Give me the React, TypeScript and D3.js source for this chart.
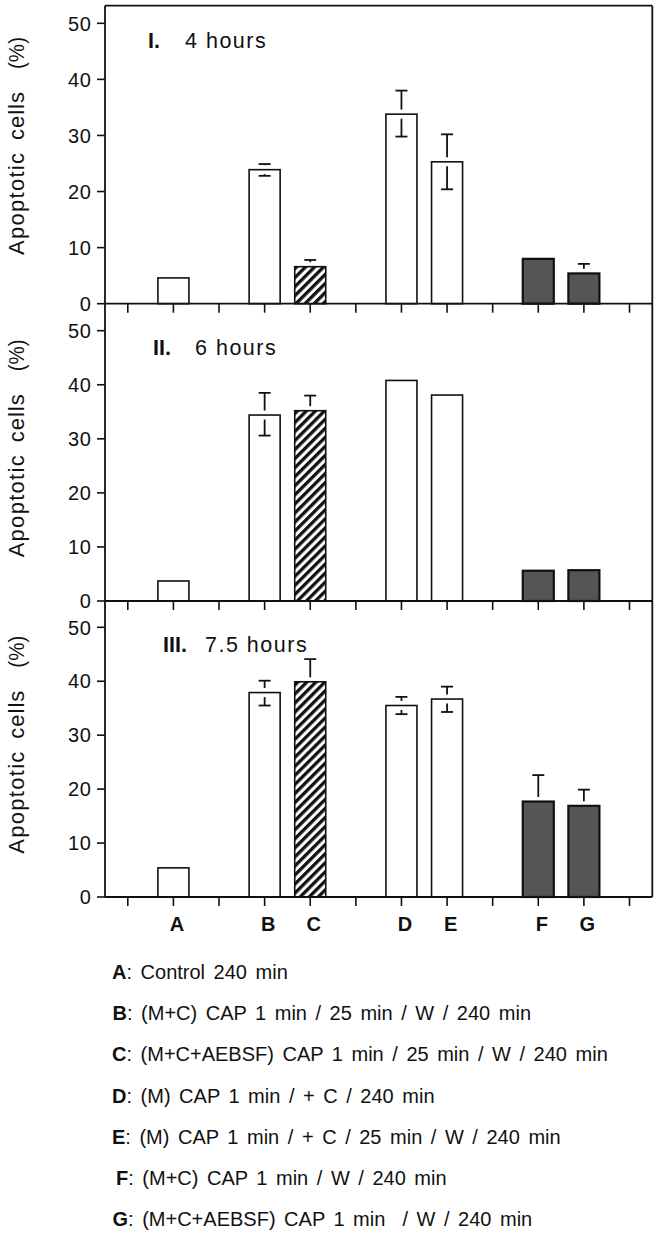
import React from "react";
import * as d3 from "d3";

// ---------- data ----------
const slots = ["s0", "A", "s1", "B", "C", "s2", "D", "E", "s3", "F", "G", "s4"];
const categories = ["A", "B", "C", "D", "E", "F", "G"];
const barKind = ["open", "open", "hatch", "open", "open", "solid", "solid"];
const yTicks = [0, 10, 20, 30, 40, 50];

const panelRoman = ["I.", "II.", "III."];
const panelTime = ["4 hours", "6 hours", "7.5 hours"];

const values4h = [4.6, 23.9, 6.6, 33.8, 25.3, 8.0, 5.4];
const errUp4h = [null, 1.0, 1.2, 4.2, 4.9, null, 1.7];
const errDown4h = [null, 1.1, null, 4.0, 4.9, null, null];

const values6h = [3.7, 34.4, 35.2, 40.8, 38.1, 5.6, 5.7];
const errUp6h = [null, 4.1, 2.8, null, null, null, null];
const errDown6h = [null, 3.8, null, null, null, null, null];

const values75h = [5.4, 37.9, 39.9, 35.5, 36.7, 17.7, 16.9];
const errUp75h = [null, 2.2, 4.2, 1.6, 2.3, 4.9, 3.0];
const errDown75h = [null, 2.4, null, 1.6, 2.4, null, null];

const legendLetters = ["A", "B", "C", "D", "E", "F", "G"];
const legendTexts = [
  "Control 240 min",
  "(M+C) CAP 1 min / 25 min / W / 240 min",
  "(M+C+AEBSF) CAP 1 min / 25 min / W / 240 min",
  "(M) CAP 1 min / + C / 240 min",
  "(M) CAP 1 min / + C / 25 min / W / 240 min",
  "(M+C) CAP 1 min / W / 240 min",
  "(M+C+AEBSF) CAP 1 min  / W / 240 min",
];

const seriesValues = [values4h, values6h, values75h];
const seriesErrUp = [errUp4h, errUp6h, errUp75h];
const seriesErrDown = [errDown4h, errDown6h, errDown75h];

// ---------- layout ----------
const W = 663;
const H = 1237;
const LEFT = 105;
const RIGHT = 652.3;
const TOP = 5.7;
const panelLayout = [
  { y50: 23.3, y0: 303.7, romanX: 148, timeX: 185 },
  { y50: 330.7, y0: 601, romanX: 153, timeX: 195 },
  { y50: 627.3, y0: 897, romanX: 163, timeX: 205 },
];
const legendIndent = [112, 112.5, 112, 112, 112, 116, 112.5];
const FONT = "'Liberation Sans', Arial, Helvetica, sans-serif";

const x = d3.scaleBand<string>().domain(slots).range([LEFT, RIGHT]).padding(0);
const bw = x.bandwidth();
const barW = bw * 0.68;
const cx = (k: string) => (x(k) as number) + bw / 2;

const legendY = d3.scaleLinear().domain([0, 6]).range([979, 1226]);

function Panel({ idx }: { idx: number }) {
  const L = panelLayout[idx];
  const y = d3.scaleLinear().domain([0, 50]).range([L.y0, L.y50]);
  const vals = seriesValues[idx];
  const eu = seriesErrUp[idx];
  const ed = seriesErrDown[idx];
  const labelCenter = (L.y0 + L.y50) / 2 - 17.5;
  const labelStart = labelCenter + 109;
  const gap = 4.5;
  return (
    <g>
      {categories.map((c, i) => {
        const kind = barKind[i];
        const top = y(vals[i]);
        const fill = kind === "open" ? "#fff" : kind === "hatch" ? "url(#hatch)" : "#555";
        const sw = kind === "solid" ? 2.2 : 1.6;
        return (
          <rect
            key={c}
            x={cx(c) - barW / 2}
            y={top}
            width={barW}
            height={L.y0 - top}
            fill={fill}
            stroke="#111"
            strokeWidth={sw}
          />
        );
      })}
      {categories.map((c, i) => {
        const top = y(vals[i]);
        const parts: any[] = [];
        if (eu[i] != null) {
          const yu = y(vals[i] + (eu[i] as number));
          parts.push(<line key="uc" x1={cx(c) - 6} x2={cx(c) + 6} y1={yu} y2={yu} />);
          parts.push(<line key="uv" x1={cx(c)} x2={cx(c)} y1={yu} y2={Math.max(yu, top - gap)} />);
        }
        if (ed[i] != null) {
          const yd = y(vals[i] - (ed[i] as number));
          parts.push(<line key="dc" x1={cx(c) - 6} x2={cx(c) + 6} y1={yd} y2={yd} />);
          parts.push(<line key="dv" x1={cx(c)} x2={cx(c)} y1={Math.min(yd, top + gap)} y2={yd} />);
        }
        return (
          <g key={"e" + c} stroke="#111" strokeWidth={1.8}>
            {parts}
          </g>
        );
      })}
      <line x1={LEFT} x2={RIGHT} y1={L.y0} y2={L.y0} stroke="#111" strokeWidth={1.8} />
      {slots.map((s) => (
        <line key={"xt" + s} x1={cx(s)} x2={cx(s)} y1={L.y0} y2={L.y0 + 9} stroke="#111" strokeWidth={1.6} />
      ))}
      {yTicks.map((t) => (
        <g key={"yt" + t}>
          <line x1={LEFT - 8} x2={LEFT} y1={y(t)} y2={y(t)} stroke="#111" strokeWidth={1.6} />
          <text
            x={91.5}
            y={y(t)}
            dy="0.36em"
            textAnchor="end"
            fontSize={20}
            letterSpacing={0.6}
            fontFamily={FONT}
            fill="#111"
          >
            {t}
          </text>
        </g>
      ))}
      <g transform={`translate(24,${labelStart}) rotate(-90)`} fontFamily={FONT} fontSize={22} fill="#111">
        <text x={0} y={0} textLength={102} lengthAdjust="spacing">Apoptotic</text>
        <text x={115} y={0} textLength={48} lengthAdjust="spacing">cells</text>
        <text x={186} y={0} textLength={32} lengthAdjust="spacingAndGlyphs">(%)</text>
      </g>
      <text x={L.romanX} y={L.y50 + 24.5} fontFamily={FONT} fontSize={21.5} fontWeight="bold" fill="#111">
        {panelRoman[idx]}
      </text>
      <text x={L.timeX} y={L.y50 + 24.5} fontFamily={FONT} fontSize={21.5} letterSpacing={1.5} fill="#111">
        {panelTime[idx]}
      </text>
    </g>
  );
}

export default function App() {
  return (
    <svg
      width={W}
      height={H}
      viewBox={`0 0 ${W} ${H}`}
      style={{ position: "absolute", left: 0, top: 0, background: "#fff" }}
    >
      <defs>
        <pattern id="hatch" patternUnits="userSpaceOnUse" width={6.4} height={6.4} patternTransform="rotate(45)">
          <rect x={0} y={0} width={6.4} height={6.4} fill="#fff" />
          <rect x={0} y={0} width={3.3} height={6.4} fill="#111" />
        </pattern>
      </defs>
      <rect x={0} y={0} width={W} height={H} fill="#fff" />
      {[0, 1, 2].map((i) => (
        <Panel key={i} idx={i} />
      ))}
      <line x1={LEFT} x2={LEFT} y1={TOP} y2={panelLayout[2].y0} stroke="#111" strokeWidth={1.8} />
      <line x1={RIGHT} x2={RIGHT} y1={TOP} y2={panelLayout[2].y0} stroke="#111" strokeWidth={1.8} />
      <line x1={LEFT} x2={RIGHT} y1={TOP} y2={TOP} stroke="#111" strokeWidth={1.8} />
      {categories.map((c) => (
        <text
          key={"xl" + c}
          x={cx(c) + 3.5}
          y={931}
          textAnchor="middle"
          fontFamily={FONT}
          fontSize={20}
          fontWeight="bold"
          fill="#111"
        >
          {c}
        </text>
      ))}
      {legendLetters.map((l, i) => (
        <text
          key={"lg" + l}
          x={legendIndent[i]}
          y={legendY(i)}
          fontFamily={FONT}
          fontSize={20}
          wordSpacing={3}
          fill="#111"
          style={{ whiteSpace: "pre" }}
        >
          <tspan fontWeight="bold">{l}</tspan>
          <tspan>{": " + legendTexts[i]}</tspan>
        </text>
      ))}
    </svg>
  );
}
